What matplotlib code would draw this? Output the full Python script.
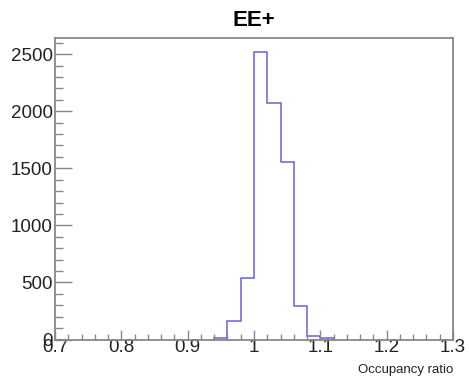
import numpy as np
import matplotlib
matplotlib.use("Agg")
from matplotlib import pyplot as plt
from matplotlib.ticker import MultipleLocator

plt.rcParams['font.family'] = ['Liberation Sans', 'DejaVu Sans']

# histogram bins (width 0.02) and counts
bin_edges = [0.94, 0.96, 0.98, 1.00, 1.02, 1.04, 1.06, 1.08, 1.10, 1.12]
counts = [15, 160, 540, 2520, 2070, 1555, 295, 35, 10]

title = "EE+"
xlabel = "Occupancy ratio"

fig = plt.figure(figsize=(4.69, 3.77), dpi=100)
ax = fig.add_axes([55 / 469, 37.5 / 377, 398 / 469, 302 / 377])

ax.stairs(counts, bin_edges, baseline=0, color="#6464d8", lw=1.1)

ax.set_xlim(0.7, 1.3)
ax.set_ylim(0, max(counts) * 1.05)

ax.xaxis.set_major_locator(MultipleLocator(0.1))
ax.xaxis.set_minor_locator(MultipleLocator(0.02))
ax.yaxis.set_major_locator(MultipleLocator(500))
ax.yaxis.set_minor_locator(MultipleLocator(100))
ax.xaxis.set_major_formatter(plt.FuncFormatter(lambda v, p: ("%g" % round(v, 2))))

gray = "#888888"
ax.tick_params(axis="x", which="major", direction="in", length=7, width=1, color=gray,
               labelsize=13.5, pad=0)
ax.tick_params(axis="x", which="minor", direction="in", length=4, width=1, color=gray)
ax.tick_params(axis="y", which="major", direction="in", length=12, width=1, color=gray,
               labelsize=13.5, pad=1.5)
ax.tick_params(axis="y", which="minor", direction="in", length=6, width=1, color=gray)
for lab in ax.get_xticklabels() + ax.get_yticklabels():
    lab.set_color("#222222")
for s in ax.spines.values():
    s.set_color(gray)
    s.set_linewidth(1.3)

fig.text(254 / 469, 1 - 21 / 377, title, ha="center", va="center",
         fontsize=16, fontweight="bold")
fig.text(453 / 469, 1 - 370 / 377, xlabel, ha="right", va="center", fontsize=9.5,
         color="#222222")

fig.savefig("out.png", dpi=100)
